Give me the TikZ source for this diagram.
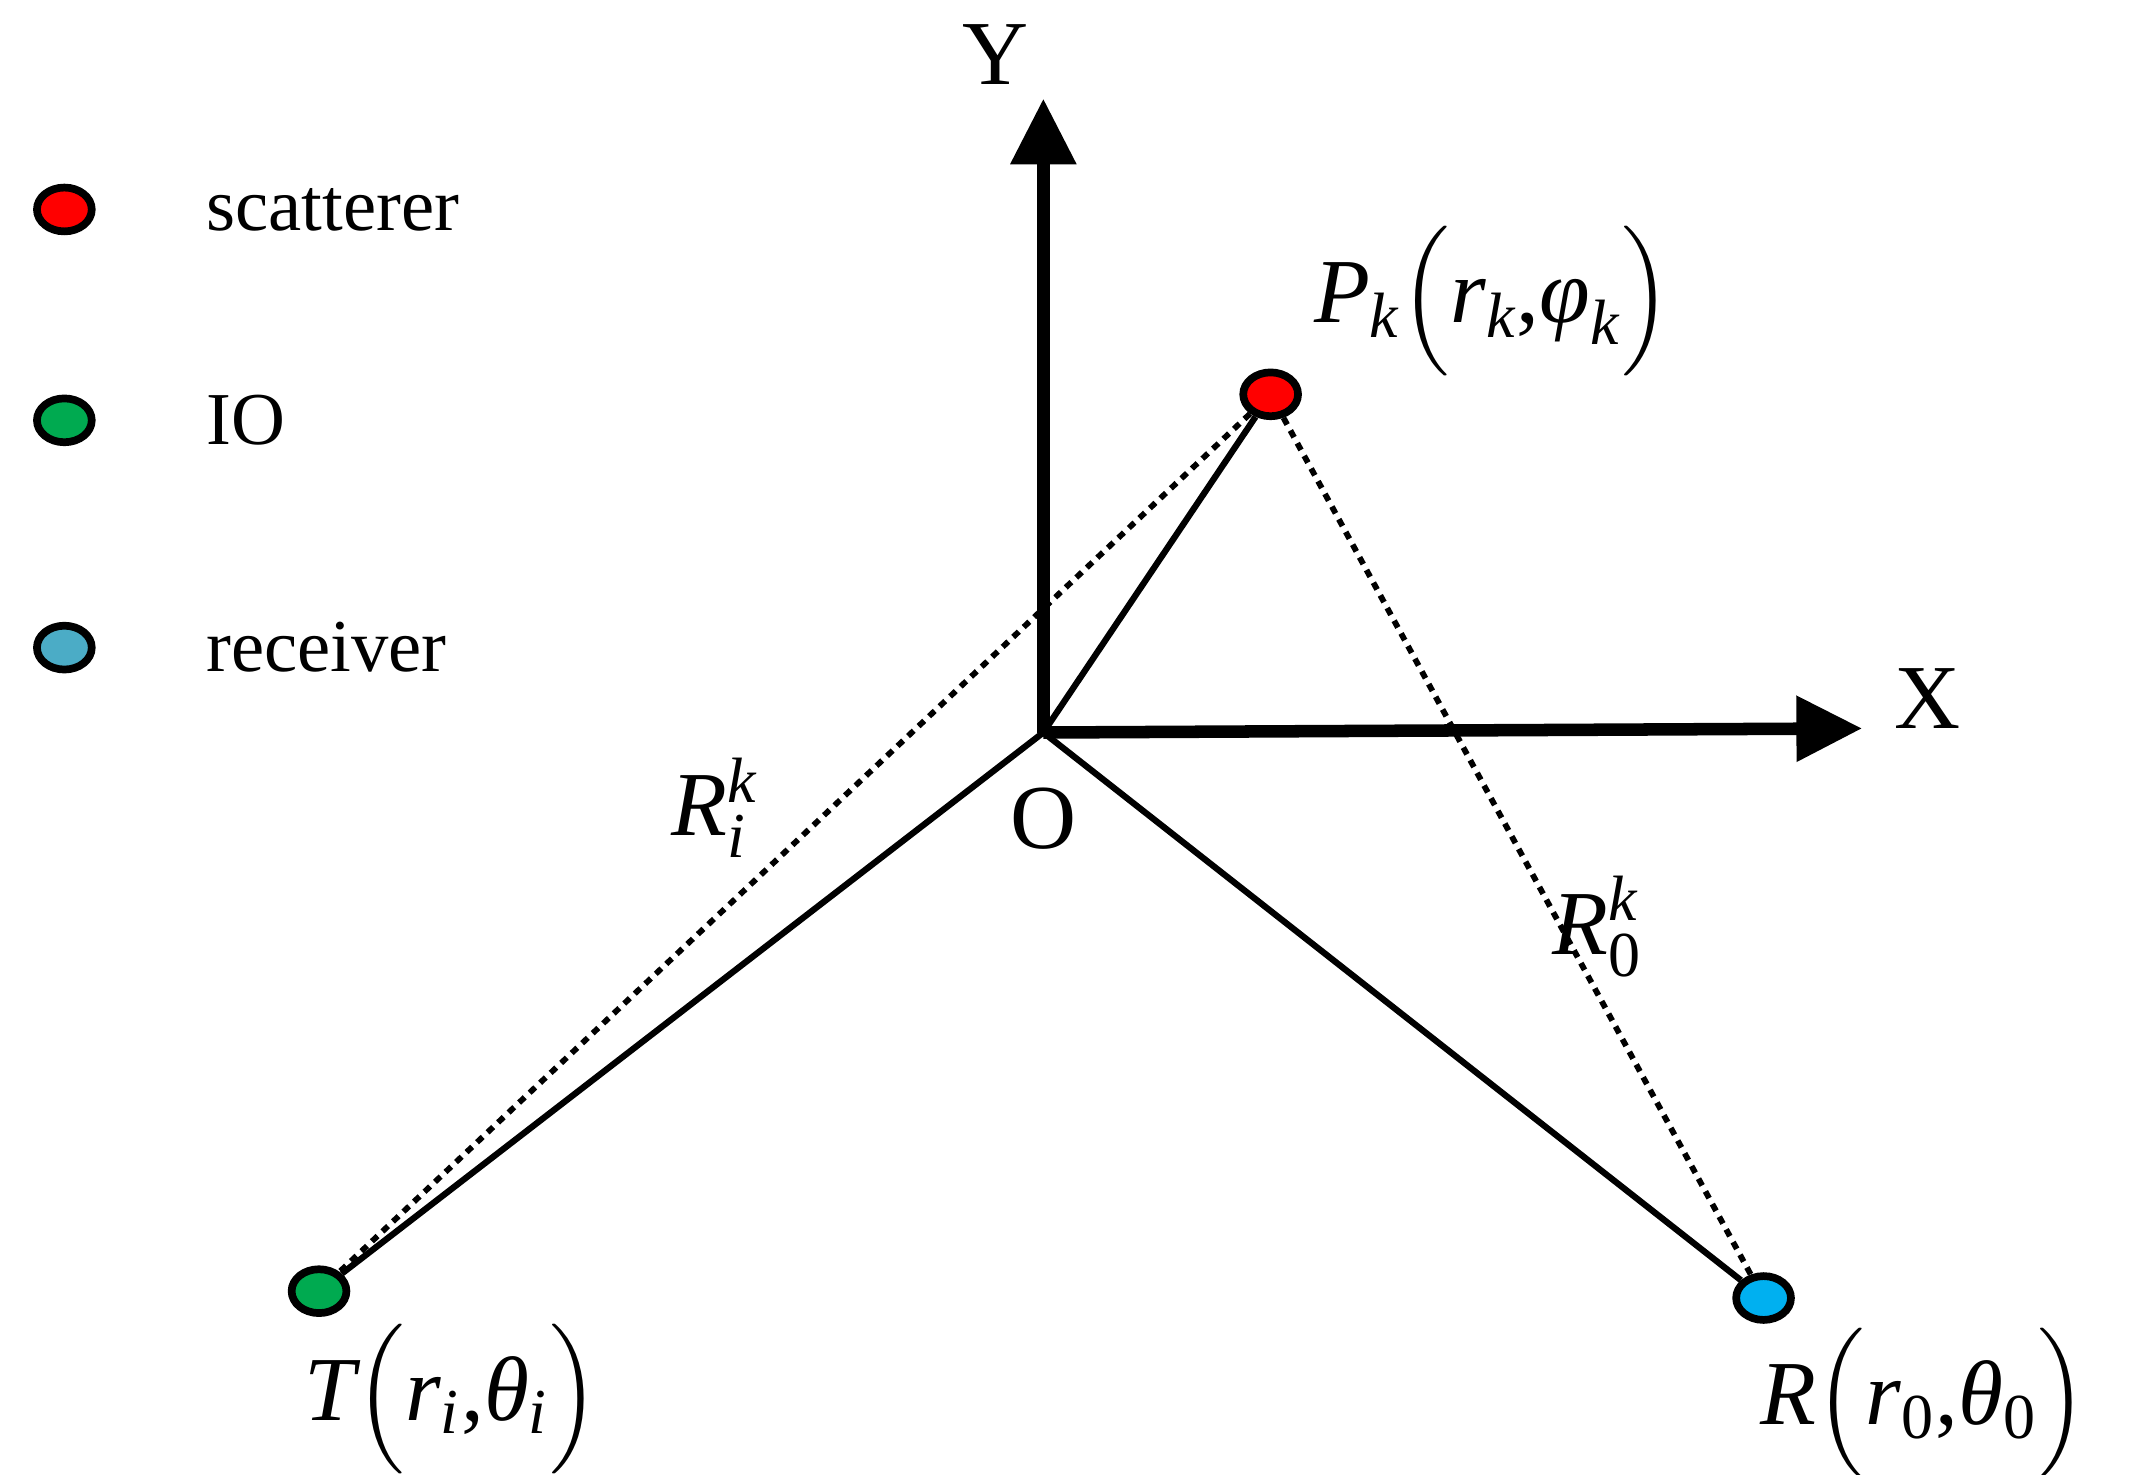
\documentclass[tikz,border=0pt]{standalone}
\usepackage{amsmath}
\usepackage{fontspec}
\setmainfont{Liberation Serif}
\usetikzlibrary{arrows.meta,shapes.geometric}
\newcommand{\iv}[1]{\text{\itshape #1}}
\newcommand{\up}[1]{\text{#1}}
\begin{document}
\begin{tikzpicture}[x=0.01cm,y=-0.01cm,
  dot/.style={draw=black,line width=1.6pt,ellipse,minimum width=0.4cm,minimum height=0.32cm,inner sep=0pt},
  ax/.style={line width=2.6pt,-{Triangle[length=0.48cm,width=0.46cm]}},
  sol/.style={line width=1.3pt},
  dt/.style={line width=1.2pt,dash pattern=on 1.6pt off 1.4pt},
  lbl/.style={font=\fontsize{19}{22}\selectfont,inner sep=0pt},
  leg/.style={font=\fontsize{15.5}{18}\selectfont,anchor=west,inner sep=0pt}]
\useasboundingbox (0,0) rectangle (1560,1077);
\coordinate (O) at (762,535);
\coordinate (Ytip) at (762,72);
\coordinate (Xtip) at (1360,532);
\node[dot,fill={rgb,255:red,255;green,0;blue,0}] (P) at (928,288) {};
\node[dot,fill={rgb,255:red,0;green,170;blue,80}] (T) at (233,943) {};
\node[dot,fill={rgb,255:red,0;green,176;blue,240}] (R) at (1288,948) {};
\draw[ax] (O) -- (Ytip);
\draw[ax] (O) -- (Xtip);
\draw[sol] (O) -- (P);
\draw[sol] (O) -- (T);
\draw[sol] (O) -- (R);
\draw[dt] (P) -- (T);
\draw[dt] (P) -- (R);
\node[lbl] (Yl) at (727,40) {Y};
\node[lbl] (Xl) at (1408,510) {X};
\node[lbl] (Ol) at (762,598) {O};
\node[lbl] (Pl) at (1090,220) {$\iv{P}_{\iv{k}}\Bigl(\iv{r}_{\iv{k}}\up{,}\iv{φ}_{\iv{k}}\Bigr)$};
\node[lbl] (Tl) at (330,1022) {$\iv{T}\Bigl(\iv{r}_{\iv{i}}\up{,}\iv{θ}_{\iv{i}}\Bigr)$};
\node[lbl] (Rl) at (1405,1025) {$\iv{R}\Bigl(\iv{r}_{\up{0}}\up{,}\iv{θ}_{\up{0}}\Bigr)$};
\node[lbl] (Ri) at (522,590) {$\iv{R}_{\iv{i}}^{\iv{k}}$};
\node[lbl] (R0) at (1167,677) {$\iv{R}_{\up{0}}^{\iv{k}}$};
\node[dot,fill={rgb,255:red,255;green,0;blue,0}] (L1) at (47,153) {};
\node[dot,fill={rgb,255:red,0;green,170;blue,80}] (L2) at (47,307) {};
\node[dot,fill={rgb,255:red,75;green,172;blue,198}] (L3) at (47,473) {};
\node[leg] (t1) at (150,153) {scatterer};
\node[leg] (t2) at (150,307) {IO};
\node[leg] (t3) at (150,473) {receiver};
\end{tikzpicture}
\end{document}
